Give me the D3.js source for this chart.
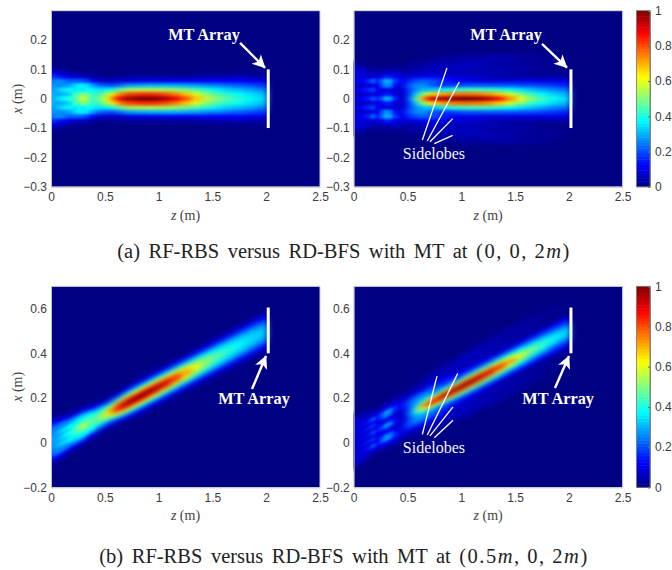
<!DOCTYPE html>
<html><head><meta charset="utf-8">
<script src="https://cdn.jsdelivr.net/npm/d3@7"></script>
<style>html,body{margin:0;padding:0;background:#fff}svg{display:block}</style>
</head><body><div id="c"></div>
<script>
// ---------- data ----------
const zEdges=[0,.04,.08,.12,.16,.2,.24,.28,.32,.36,.4,.45,.5,.55,.6,.65,.7,.8,.9,1,1.1,1.2,1.3,1.4,1.5,1.6,1.7,1.8,1.9,2.01];
const rowOffsets=[0,.015,.03,.045,.06,.075,.09,.105,.12,.135,.15];
const centreTop=zEdges.map(()=>0);
const centreBottom=[0,.01,.02,.03,.04,.05,.06,.07,.08,.09,.1,.112,.125,.138,.15,.162,.175,.2,.225,.25,.275,.3,.325,.35,.375,.4,.425,.45,.475,.5];
// each row: one z column; each entry: beam amplitude (%) at rowOffsets on both sides of the centre line
const ampTopLeft=[
[30,30,28,27,24,17,8,2],[33,28,31,26,26,15,6,1],[36,29,34,26,26,13,5,1],[38,31,36,27,23,11,3],
[42,34,37,29,21,8,2],[42,44,35,33,22,8,2],[52,45,37,36,21,7,1],[58,50,36,36,20,6,1],
[50,47,38,34,18,5,1],[44,42,37,28,13,3],[46,43,36,24,9,2],[52,47,36,22,7,1],
[62,54,38,20,7,1],[74,62,40,20,7,2],[86,72,46,22,7,2],[92,77,50,25,8,2],
[97,81,54,28,9,3],[100,83,55,29,10,3],[99,83,55,30,10,3],[96,80,54,30,10,3],
[89,75,52,30,11,3],[79,68,49,29,11,3],[67,59,45,28,11,3],[57,51,40,26,12,4,1],
[50,45,36,25,12,4,1],[45,41,33,23,12,4,1],[41,38,31,22,12,5,1],[38,35,29,20,11,4,1],[35,32,26,18,10,4,1]];
const ampTopRight=[
[9,7,9,7,9,9,9,6,2],[11,6,11,6,11,8,9,5,1],[13,6,14,6,13,8,8,3],[15,6,16,7,16,7,6,2],
[20,8,18,9,22,9,5,2],[16,10,10,11,15,8,4,1],[20,11,9,19,22,11,4,1],[30,15,9,26,30,15,5,2],
[28,14,9,24,28,14,6,2],[15,9,7,13,18,11,6,2],[7,6,6,8,11,9,5,3],[9,9,11,15,13,8,4,2],
[24,20,20,22,17,8,4,3,1],[42,32,26,26,20,10,4,3,2],[66,46,30,27,22,11,5,4,2,1],[80,56,32,26,22,12,5,5,3,1],
[92,66,32,20,20,12,5,6,4,2],[96,72,38,17,15,11,5,6,5,3,1],[99,75,42,19,12,9,5,6,5,3,1],[100,76,44,21,11,8,5,6,6,4,2],
[98,75,44,21,10,7,5,5,6,4,2],[94,72,43,21,9,5,5,4,5,5,2],[85,67,41,21,9,4,5,4,4,4,3],[73,59,38,21,10,3,4,4,3,4,3],
[61,50,35,20,10,3,3,3,3,3,2],[51,43,32,20,10,3,2,3,2,3,2],[44,38,29,19,10,3,1,2,2,2,1],[39,34,26,18,10,3,1,1,2,1,1],[35,31,24,16,10,3,1,1,1,1,0]];
const ampBottomLeft=[
[28,28,26,25,22,15,7,2],[30,28,30,25,24,14,6,1],[33,30,33,26,24,12,5,1],[37,32,35,27,22,10,3],
[40,36,37,29,20,8,2],[43,42,36,31,20,8,2],[50,45,38,33,20,7,1],[54,48,38,33,19,6,1],
[49,46,40,31,16,5,1],[46,44,39,28,12,3],[48,46,38,25,9,2],[54,50,38,22,7,1],
[64,56,40,20,7,1],[76,66,44,22,8,2],[88,76,52,26,9,2],[94,81,56,30,10,2],
[99,85,59,33,14,4],[100,86,60,34,15,5,1],[98,84,59,34,15,5,1],[93,80,57,33,15,5,1],
[84,74,54,32,15,5,1],[72,65,50,31,15,5,1],[61,56,45,30,15,6,1],[52,49,40,29,15,6,2],
[46,43,36,28,15,7,2],[42,39,34,26,15,7,2],[38,36,32,25,15,7,2],[35,34,30,24,15,7,2],[33,32,28,22,14,7,2]];
const ampBottomRight=[
[8,7,8,7,8,8,9,5,1],[10,6,10,6,10,7,8,4,1],[12,6,13,6,12,7,7,3],[14,6,15,7,15,7,6,2],
[19,8,17,9,21,9,5,2],[15,10,10,11,14,8,4,1],[19,11,9,18,20,11,4,1],[28,15,9,25,28,14,5,2],
[27,14,9,23,26,13,6,2],[14,9,7,13,17,11,6,2],[7,6,6,8,11,9,5,3],[10,10,12,16,14,8,4,2],
[26,22,21,23,18,9,4,3,1],[44,34,27,27,21,10,4,3,2],[66,47,31,28,23,12,5,4,2,1],[78,58,34,27,23,13,6,5,3,1],
[90,66,34,22,21,13,6,6,4,2],[95,73,40,19,16,12,6,6,5,3,1],[98,77,45,21,13,9,5,6,5,3,1],[100,78,47,23,12,8,5,6,6,4,2],
[97,77,47,24,11,7,5,5,6,4,2],[92,74,45,24,10,5,5,4,5,5,2],[84,68,43,24,10,4,5,4,4,4,3],[73,60,40,23,11,3,4,4,3,4,3],
[60,51,37,22,11,3,3,3,3,3,2],[50,44,33,21,11,3,2,3,2,3,2],[44,39,30,20,11,3,1,2,2,2,1],[39,35,27,19,11,3,1,1,2,1,1],[35,32,25,17,11,3,1,1,1,1,0]];
const zTicks=[0,.5,1,1.5,2,2.5];
const xTicksTop=[-.3,-.2,-.1,0,.1,.2];
const xTicksBottom=[-.2,0,.2,.4,.6];
const colorTicks=[0,.2,.4,.6,.8,1];
const jetStops=[0,.125,.375,.625,.875,1];
const jetColors=["#000083","#0000ff","#00ffff","#ffff00","#ff0000","#800000"];
const captionA=["(a) RF-RBS versus RD-BFS with MT at ","(0, 0, 2","m",")"];
const captionB=["(b) RF-RBS versus RD-BFS with MT at ","(0.5","m",", 0, 2","m",")"];
const sidelobesTop=[[.638,-.141,.867,.105],[.684,-.144,.981,.057],[.709,-.147,.92,-.068],[.749,-.153,.92,-.125]];
const sidelobesBottom=[[.638,.037,.774,.298],[.684,.034,.967,.31],[.709,.03,.923,.16],[.749,.022,.923,.1]];

// ---------- layout ----------
const W=672,H=570;
const svg=d3.select("#c").append("svg").attr("width",W).attr("height",H).attr("viewBox",[0,0,W,H]);
const jet=d3.scaleLinear().domain(jetStops).range(jetColors).clamp(true);
const defs=svg.append("defs");
[["soft","3 1.5"],["fine","1.5 1.2"]].forEach(([id,sd])=>{
  defs.append("filter").attr("id",id).attr("x","-5%").attr("y","-5%").attr("width","110%").attr("height","110%")
    .attr("color-interpolation-filters","sRGB")
    .append("feGaussianBlur").attr("stdDeviation",sd);
});
const m=defs.append("marker").attr("id","head").attr("viewBox","0 0 10 10").attr("refX",9.5).attr("refY",5)
  .attr("markerUnits","userSpaceOnUse").attr("markerWidth",16).attr("markerHeight",13).attr("orient","auto");
m.append("path").attr("d","M0,0L10,5L0,10L2.5,5Z").attr("fill","#fff");

const labelCol="#3c3c3c";
let clipN=0;
function panel(o){
  const z=d3.scaleLinear().domain([0,2.5]).range([o.left,o.left+269]);
  const x=d3.scaleLinear().domain(o.xDomain).range([o.bottom,o.top]);
  const id="cl"+(clipN++);
  defs.append("clipPath").attr("id",id).append("rect")
    .attr("x",z.range()[0]).attr("y",o.top).attr("width",269).attr("height",o.bottom-o.top);
  const g=svg.append("g");
  const inner=g.append("g").attr("clip-path",`url(#${id})`);
  inner.append("rect").attr("x",z.range()[0]).attr("y",o.top).attr("width",269).attr("height",o.bottom-o.top).attr("fill",jet(0));
  const cells=[];
  o.amp.forEach((col,i)=>col.forEach((v,j)=>{
    (j===0?[0]:[1,-1]).forEach(s=>cells.push({i,off:s*rowOffsets[j],v:v/100}));
  }));
  cells.sort((a,b)=>a.v-b.v);
  const step=rowOffsets[1];
  const drawCells=(filterId,data)=>inner.append("g").attr("filter",`url(#${filterId})`)
    .selectAll("path").data(data).join("path")
    .attr("d",d=>{
      const a=d.i===0?-.08:zEdges[d.i],b=zEdges[d.i+1];
      const ca=o.centre[d.i],cb=o.centre[d.i+1];
      return d3.line()([[z(a),x(ca+d.off+step/2)],[z(b),x(cb+d.off+step/2)],[z(b),x(cb+d.off-step/2)],[z(a),x(ca+d.off-step/2)]])+"Z";
    })
    .attr("fill",d=>jet(d.v)).attr("stroke",d=>jet(d.v)).attr("stroke-width",.4);
  drawCells("soft",cells);
  drawCells("fine",cells.filter(d=>d.i<10));

  // axes
  const ax=g.append("g").attr("transform",`translate(0,${o.bottom})`)
    .call(d3.axisBottom(z).tickValues(zTicks).tickSize(0).tickPadding(6).tickFormat(d3.format("")));
  const ay=g.append("g").attr("transform",`translate(${o.left},0)`)
    .call(d3.axisLeft(x).tickValues(o.xTicks).tickSize(0).tickPadding(4).tickFormat(d=>d3.format("")(+d.toFixed(1))));
  [ax,ay].forEach(a=>{a.selectAll("text").attr("font-family","'Liberation Sans'").attr("font-size",12).attr("fill",labelCol);
    a.select(".domain").attr("stroke","#bdbdbd");});
  g.append("path").attr("fill","none").attr("stroke","#d0d0d0")
    .attr("d",`M${o.left},${o.top}H${o.left+269}V${o.bottom}`);

  // axis titles
  const zt=g.append("text").attr("x",z(1.25)).attr("y",o.bottom+33).attr("text-anchor","middle")
    .attr("font-family","'Liberation Serif'").attr("font-size",14).attr("fill","#444");
  zt.append("tspan").attr("font-style","italic").text("z");zt.append("tspan").text(" (m)");
  if(o.yTitle){
    const c=(o.top+o.bottom)/2;
    const yt=g.append("text").attr("transform",`translate(22,${c}) rotate(-90)`).attr("text-anchor","middle")
      .attr("font-family","'Liberation Serif'").attr("font-size",14).attr("fill","#444");
    yt.append("tspan").attr("font-style","italic").text("x");yt.append("tspan").text(" (m)");
  }
  // array bar
  g.append("rect").attr("x",z(2.005)).attr("width",z(2.033)-z(2.005))
    .attr("y",x(o.bar[1])).attr("height",x(o.bar[0])-x(o.bar[1])).attr("fill","#fff");
  // arrow + label
  g.append("line").attr("x1",z(o.arrow[0])).attr("y1",x(o.arrow[1])).attr("x2",z(o.arrow[2])).attr("y2",x(o.arrow[3]))
    .attr("stroke","#fff").attr("stroke-width",2.4).attr("marker-end","url(#head)");
  g.append("text").attr("x",z(o.label[0])).attr("y",x(o.label[1])).attr("text-anchor","middle")
    .attr("font-family","'Liberation Serif'").attr("font-weight","bold").attr("font-size",16.3).attr("fill","#fff").text("MT Array");
  if(o.lobes){
    g.selectAll("line.l").data(o.lobes).join("line").attr("class","l")
      .attr("x1",d=>z(d[0])).attr("y1",d=>x(d[1])).attr("x2",d=>z(d[2])).attr("y2",d=>x(d[3]))
      .attr("stroke","#fff").attr("stroke-width",1.3);
    g.append("text").attr("x",z(.746)).attr("y",x(o.lobeY)).attr("text-anchor","middle")
      .attr("font-family","'Liberation Serif'").attr("font-size",16).attr("fill","#f4f4f4").text("Sidelobes");
  }
}
function colorbar(top,bottom){
  const c=d3.scaleLinear().domain([0,1]).range([bottom,top]);
  const steps=d3.range(64);
  svg.append("g").selectAll("rect").data(steps).join("rect")
    .attr("x",636.5).attr("width",13.5)
    .attr("y",d=>c((d+1)/64)).attr("height",d=>c(d/64)-c((d+1)/64)+.5)
    .attr("fill",d=>jet((d+.5)/64));
  const a=svg.append("g").attr("transform","translate(650,0)")
    .call(d3.axisRight(c).tickValues(colorTicks).tickSize(-2).tickPadding(5).tickFormat(d3.format("")));
  a.selectAll("text").attr("font-family","'Liberation Sans'").attr("font-size",12).attr("fill",labelCol);
  a.select(".domain").attr("stroke","#888");
  a.selectAll("line").attr("stroke","#666");
  svg.append("rect").attr("x",636.5).attr("y",top).attr("width",13.5).attr("height",bottom-top)
    .attr("fill","none").attr("stroke","#777").attr("stroke-width",.8);
}
function caption(parts,y){
  const t=svg.append("text").attr("x",344).attr("y",y).attr("text-anchor","middle")
    .attr("font-family","'Liberation Serif'").attr("font-size",20.5).attr("fill","#222");
  parts.forEach((p,i)=>t.append("tspan")
    .attr("font-style",p==="m"?"italic":"normal")
    .attr("word-spacing",i===0?3.4:0)
    .attr("letter-spacing",i===0?0:1.5).text(p));
}
const topY={top:10.7,bottom:186.7,xDomain:[-.3,.3],xTicks:xTicksTop,centre:centreTop,bar:[-.1,.1]};
const botY={top:286.3,bottom:487.3,xDomain:[-.2,.7],xTicks:xTicksBottom,centre:centreBottom,bar:[.4,.605]};
panel({...topY,left:51,amp:ampTopLeft,yTitle:true,arrow:[1.757,.19,1.989,.105],label:[1.422,.2]});
panel({...topY,left:353.7,amp:ampTopRight,arrow:[1.75,.187,1.982,.106],label:[1.416,.2],lobes:sidelobesTop,lobeY:-.206});
panel({...botY,left:51,amp:ampBottomLeft,yTitle:true,arrow:[1.868,.24,1.998,.388],label:[1.887,.173]});
panel({...botY,left:353.7,amp:ampBottomRight,arrow:[1.871,.245,2.001,.388],label:[1.9,.173],lobes:sidelobesBottom,lobeY:-.046});
colorbar(10.7,186.7);
colorbar(286.3,487.3);
caption(captionA,258);
caption(captionB,563);
</script></body></html>
